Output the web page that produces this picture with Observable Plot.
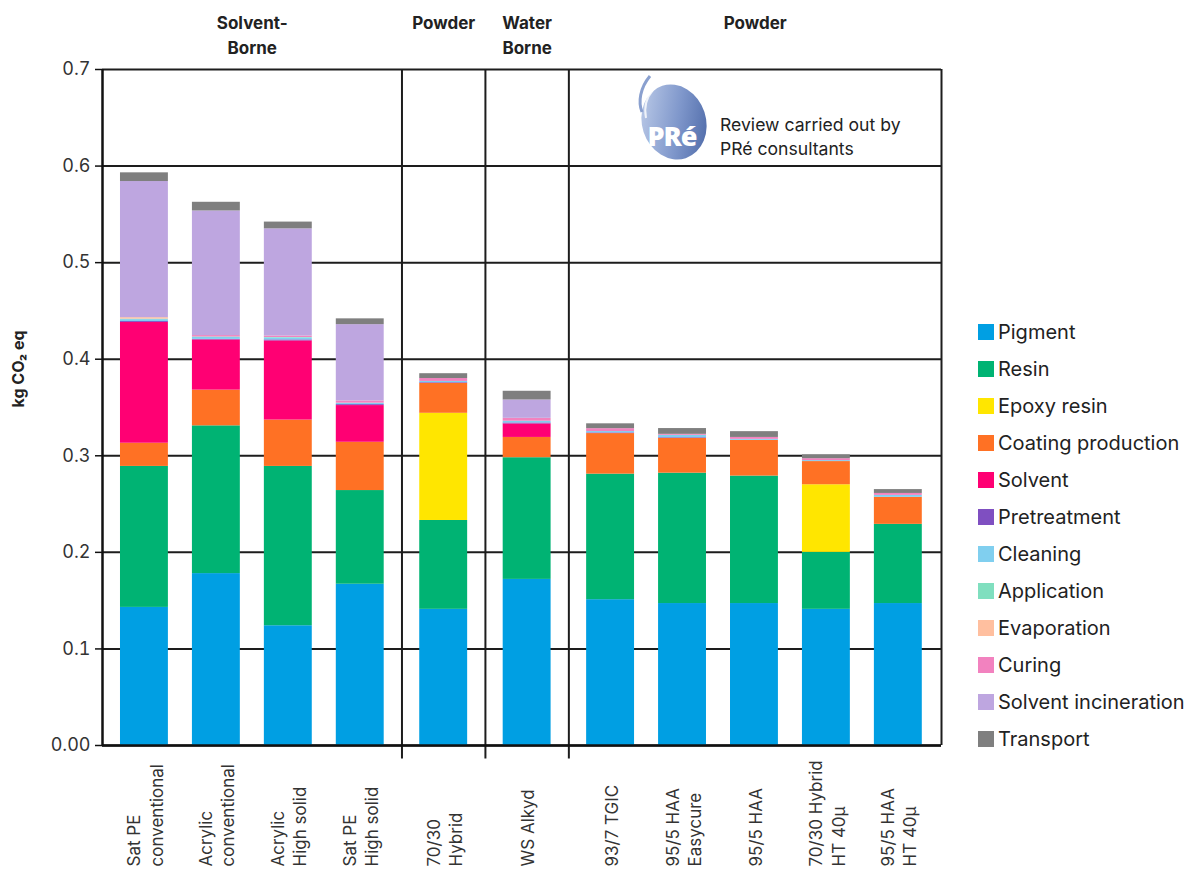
<!DOCTYPE html>
<html>
<head>
<meta charset="utf-8">
<script src="https://cdn.jsdelivr.net/npm/d3@7"></script>
<script src="https://cdn.jsdelivr.net/npm/@observablehq/plot@0.6"></script>
<style>
  html, body { margin: 0; padding: 0; background: #fff; }
  body { font-family: Inter, "Noto Sans", sans-serif; color: #222; }
  #wrap { position: relative; width: 1189px; height: 869px; overflow: hidden; }
  #chart { position: absolute; left: 0; top: 0; }
  #legend { position: absolute; left: 978px; top: 313px; }
  .li { display: flex; align-items: center; height: 37px; font-size: 20px; color: #222; white-space: nowrap; }
  .sw { width: 16px; height: 16px; margin-right: 4px; flex: none; }
  #logo { position: absolute; left: 628px; top: 68px; }
  #logotext { position: absolute; left: 720px; top: 113px; font-size: 17.6px; line-height: 24px; color: #222; white-space: nowrap; }
</style>
</head>
<body>
<div id="wrap">
  <div id="chart"></div>
  <svg id="logo" width="92" height="100" viewBox="0 0 92 100">
    <defs>
      <linearGradient id="lg" x1="0" y1="0.2" x2="1" y2="0.8">
        <stop offset="0" stop-color="#bccbe8"/>
        <stop offset="0.55" stop-color="#7f97cb"/>
        <stop offset="1" stop-color="#4e6aa8"/>
      </linearGradient>
    </defs>
    <ellipse cx="46" cy="54" rx="32" ry="38" transform="rotate(-18 46 54)" fill="url(#lg)"/>
    <path d="M22 8 C 12 20, 10 34, 14 44" stroke="#8aa0cf" stroke-width="3" fill="none"/>
    <path d="M25 22 C 18 30, 16 40, 18 50" stroke="#ffffff" stroke-width="2" fill="none" opacity="0.8"/>
    <text x="44" y="78" text-anchor="middle" font-family="'Open Sans', sans-serif" font-weight="800" font-size="27" fill="#fff" letter-spacing="-1">PRé</text>
  </svg>
  <div id="logotext">Review carried out by<br>PRé consultants</div>
  <div id="legend"></div>
</div>
<script>
// ---------- data ----------
const categories = [
  "Sat PE\nconventional", "Acrylic\nconventional", "Acrylic\nHigh solid", "Sat PE\nHigh solid",
  "70/30\nHybrid", "WS Alkyd",
  "93/7 TGIC", "95/5 HAA\nEasycure", "95/5 HAA", "70/30 Hybrid\nHT 40µ", "95/5 HAA\nHT 40µ"
];
const groupOf = [0, 0, 0, 0, 1, 2, 3, 3, 3, 3, 3];
const groupLabels = ["Solvent-\nBorne", "Powder", "Water\nBorne", "Powder"];

const seriesNames = ["Pigment", "Resin", "Epoxy resin", "Coating production", "Solvent", "Pretreatment",
  "Cleaning", "Application", "Evaporation", "Curing", "Solvent incineration", "Transport"];
const seriesColors = ["#009fe3", "#00b373", "#ffe600", "#ff7124", "#ff0073", "#7f4fc1",
  "#80cfef", "#80dfbf", "#ffbf9f", "#f282bf", "#bea6e0", "#7f7f7f"];

const pigment      = [0.143, 0.178, 0.124, 0.167, 0.141, 0.172, 0.151, 0.147, 0.147, 0.141, 0.147];
const resin        = [0.146, 0.153, 0.165, 0.097, 0.092, 0.126, 0.130, 0.135, 0.132, 0.059, 0.082];
const epoxyResin   = [0, 0, 0, 0, 0.111, 0, 0, 0, 0, 0.070, 0];
const coating      = [0.024, 0.037, 0.048, 0.050, 0.031, 0.021, 0.042, 0.036, 0.037, 0.024, 0.028];
const solvent      = [0.125, 0.052, 0.082, 0.038, 0, 0.014, 0, 0, 0, 0, 0];
const pretreatment = [0.001, 0.0005, 0.001, 0.001, 0.0007, 0.001, 0.0007, 0.0007, 0, 0, 0];
const cleaning     = [0.002, 0.002, 0.002, 0.0015, 0.0013, 0.0018, 0.0014, 0.0025, 0.001, 0.001, 0.002];
const application  = [0.0005, 0.0005, 0.0005, 0, 0, 0, 0, 0, 0, 0, 0];
const evaporation  = [0.0015, 0, 0, 0, 0, 0, 0, 0, 0, 0, 0];
const curing       = [0, 0.0015, 0.0015, 0.0023, 0.003, 0.003, 0.003, 0.001, 0.002, 0.002, 0.002];
const incineration = [0.141, 0.129, 0.111, 0.079, 0, 0.019, 0, 0, 0, 0, 0];
const transport    = [0.009, 0.009, 0.007, 0.006, 0.005, 0.009, 0.005, 0.006, 0.006, 0.004, 0.004];

const yTicks = [0, 0.1, 0.2, 0.3, 0.4, 0.5, 0.6, 0.7];
const yLabel = "kg CO₂ eq";

// ---------- derived ----------
const seriesValues = [pigment, resin, epoxyResin, coating, solvent, pretreatment,
  cleaning, application, evaporation, curing, incineration, transport];

const groupGap = 0.16;       // extra space between groups (in band units)
const halfBar = 0.333;
const pos = categories.map((c, i) => i + groupOf[i] * groupGap);
const xMin = pos[0] - 0.583, xMax = pos[pos.length - 1] + 0.6;

const rects = [];
categories.forEach((c, i) => {
  let acc = 0;
  seriesNames.forEach((s, k) => {
    const v = seriesValues[k][i];
    if (v > 0) {
      rects.push({x1: pos[i] - halfBar, x2: pos[i] + halfBar, y1: acc, y2: acc + v, series: s});
      acc += v;
    }
  });
});

const nGroups = groupLabels.length;
const separators = [];
for (let g = 1; g < nGroups; g++) {
  const lastPrev = pos[groupOf.lastIndexOf(g - 1)];
  const firstNext = pos[groupOf.indexOf(g)];
  separators.push((lastPrev + firstNext) / 2);
}
const bounds = [xMin, ...separators, xMax];
const headers = groupLabels.map((t, g) => ({x: (bounds[g] + bounds[g + 1]) / 2, text: t}));
const tickLabels = categories.map((c, i) => ({x: pos[i], text: c}));

const chart = Plot.plot({
  width: 1189,
  height: 869,
  marginLeft: 102,
  marginRight: 248,
  marginTop: 69,
  marginBottom: 124,
  style: {fontFamily: "Inter, 'Noto Sans', sans-serif", fontSize: "17px", color: "#222", background: "#fff"},
  x: {type: "linear", domain: [xMin, xMax], axis: null},
  y: {domain: [0, 0.7], axis: null},
  color: {domain: seriesNames, range: seriesColors},
  marks: [
    Plot.gridY(yTicks, {stroke: "#1d1d1d", strokeOpacity: 1, strokeWidth: 2}),
    Plot.rect(rects, {x1: "x1", x2: "x2", y1: "y1", y2: "y2", fill: "series"}),
    Plot.ruleX(separators, {y1: -0.014, y2: 0.7, stroke: "#1d1d1d", strokeWidth: 2}),
    Plot.ruleX([xMin], {y1: 0, y2: 0.7, stroke: "#111", strokeWidth: 2.5}),
    Plot.ruleX([xMax], {y1: 0, y2: 0.7, stroke: "#1d1d1d", strokeWidth: 2}),
    Plot.ruleY([0], {stroke: "#111", strokeWidth: 2.5}),
    Plot.axisY(yTicks, {
      tickSize: 7, tickPadding: 5, fontSize: 18, label: null, stroke: "#111", strokeWidth: 1.5,
      fill: "#333",
      tickFormat: d => d === 0 ? "0.00" : d.toFixed(1)
    }),
    Plot.text(tickLabels, {
      x: "x", text: "text", frameAnchor: "bottom", dy: 121, rotate: -90,
      textAnchor: "start", lineAnchor: "middle", lineHeight: 1.3, fontSize: 17, fill: "#333"
    }),
    Plot.text(headers, {
      x: "x", text: "text", frameAnchor: "top", dy: -58, lineAnchor: "top",
      lineHeight: 1.45, fontSize: 17, fontWeight: 700, fill: "#222"
    }),
    Plot.text([yLabel], {
      frameAnchor: "left", dx: -84, rotate: -90, fontSize: 16, fontWeight: 700, fill: "#222"
    })
  ]
});
document.getElementById("chart").appendChild(chart);

// legend
const legend = document.getElementById("legend");
seriesNames.forEach((s, k) => {
  const row = document.createElement("div");
  row.className = "li";
  const sw = document.createElement("div");
  sw.className = "sw";
  sw.style.background = seriesColors[k];
  const t = document.createElement("span");
  t.textContent = s;
  row.appendChild(sw);
  row.appendChild(t);
  legend.appendChild(row);
});
</script>
</body>
</html>
